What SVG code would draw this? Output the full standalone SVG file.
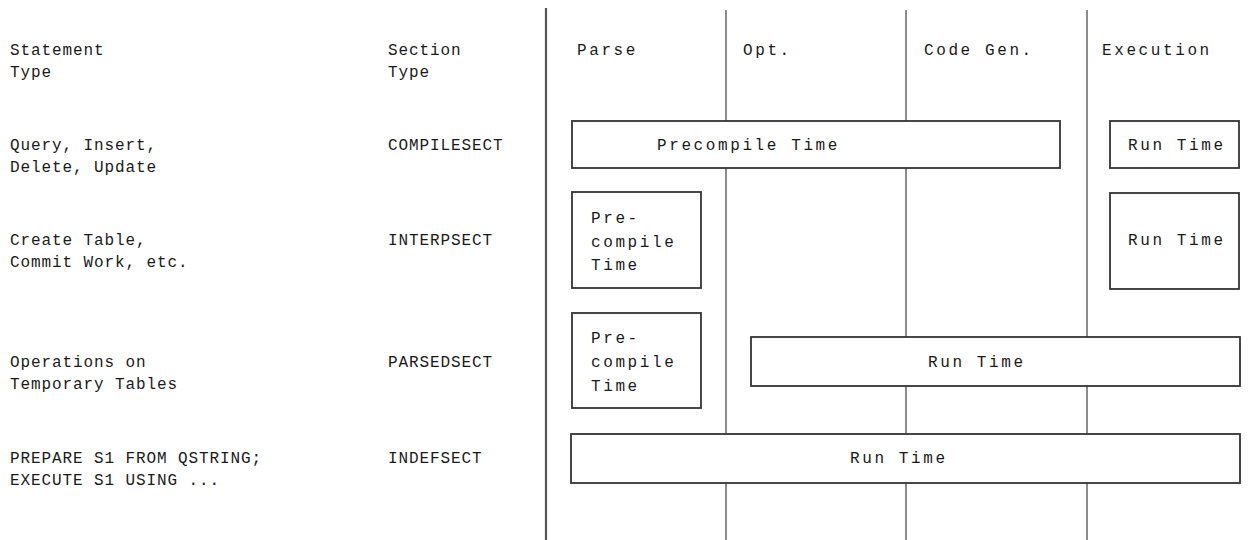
<svg xmlns="http://www.w3.org/2000/svg" width="1251" height="540" viewBox="0 0 1251 540">
<style>
text{font-family:"Liberation Mono","DejaVu Sans Mono",monospace;font-size:16px;fill:#1a1a1a}
.l{letter-spacing:0.9px}
.r{letter-spacing:2.6px}
.box{fill:#fff;stroke:#333;stroke-width:1.8}
.grid{stroke:#666;stroke-width:1.5;fill:none}
.div{stroke:#555;stroke-width:2.2;fill:none}
</style>
<rect width="1251" height="540" fill="#fff"/>
<g id="connectors">
<line class="div" x1="546" y1="8" x2="546" y2="540"/>
<line class="grid" x1="726" y1="10" x2="726" y2="540"/>
<line class="grid" x1="906" y1="10" x2="906" y2="540"/>
<line class="grid" x1="1087" y1="10" x2="1087" y2="540"/>
</g>
<g id="headers">
<text class="l" x="10" y="55">Statement</text>
<text class="l" x="10" y="77">Type</text>
<text class="l" x="388" y="55">Section</text>
<text class="l" x="388" y="77">Type</text>
<text class="r" x="577" y="55">Parse</text>
<text class="r" x="743" y="55">Opt.</text>
<text class="r" x="924" y="55">Code Gen.</text>
<text class="r" x="1102" y="55">Execution</text>
</g>
<g id="row1">
<text class="l" x="10" y="150">Query, Insert,</text>
<text class="l" x="10" y="172">Delete, Update</text>
<text class="l" x="388" y="150">COMPILESECT</text>
</g>
<g id="row2">
<text class="l" x="10" y="245">Create Table,</text>
<text class="l" x="10" y="267">Commit Work, etc.</text>
<text class="l" x="388" y="245">INTERPSECT</text>
</g>
<g id="row3">
<text class="l" x="10" y="367">Operations on</text>
<text class="l" x="10" y="389">Temporary Tables</text>
<text class="l" x="388" y="367">PARSEDSECT</text>
</g>
<g id="row4">
<text class="l" x="10" y="463">PREPARE S1 FROM QSTRING;</text>
<text class="l" x="10" y="485">EXECUTE S1 USING ...</text>
<text class="l" x="388" y="463">INDEFSECT</text>
</g>
<g id="compile-precompile">
<rect class="box" x="572" y="121" width="488" height="47"/>
<text class="r" x="657" y="150">Precompile Time</text>
</g>
<g id="compile-runtime">
<rect class="box" x="1110" y="121" width="129" height="47"/>
<text class="r" x="1128" y="150">Run Time</text>
</g>
<g id="interp-precompile">
<rect class="box" x="572" y="192" width="129" height="96"/>
<text class="r" x="591" y="223">Pre-</text>
<text class="r" x="591" y="247">compile</text>
<text class="r" x="591" y="270">Time</text>
</g>
<g id="interp-runtime">
<rect class="box" x="1110" y="193" width="129" height="96"/>
<text class="r" x="1128" y="245">Run Time</text>
</g>
<g id="parsed-precompile">
<rect class="box" x="572" y="313" width="129" height="95"/>
<text class="r" x="591" y="343">Pre-</text>
<text class="r" x="591" y="367">compile</text>
<text class="r" x="591" y="391">Time</text>
</g>
<g id="parsed-runtime">
<rect class="box" x="751" y="337" width="489" height="49"/>
<text class="r" x="928" y="367">Run Time</text>
</g>
<g id="indef-runtime">
<rect class="box" x="571" y="434" width="669" height="49"/>
<text class="r" x="850" y="463">Run Time</text>
</g>
</svg>
